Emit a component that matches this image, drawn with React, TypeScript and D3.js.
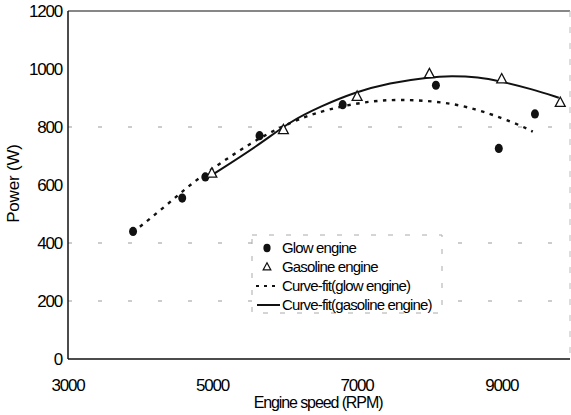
import React from "react";
import * as d3 from "d3";

const xTicks = [3000, 5000, 7000, 9000];
const yTicks = [0, 200, 400, 600, 800, 1000, 1200];
const gridValues = [200, 400, 800];

const glowRpm = [3900, 4580, 4900, 5650, 6800, 8090, 8960, 9460];
const glowPower = [440, 555, 628, 770, 877, 944, 726, 845];

const gasRpm = [4990, 5980, 7000, 8000, 9000, 9810];
const gasPower = [640, 790, 905, 983, 965, 884];

const glowFitRpm = [3900, 4369, 4729, 5130, 5531, 5900, 6264, 6568, 7066, 7578, 8228, 8643, 9003, 9279, 9430];
const glowFitPower = [437, 531, 610, 679, 745, 795, 834, 859, 886, 897, 886, 862, 831, 803, 784];

const gasFitRpm = [4950, 5642, 6057, 6500, 6983, 7440, 7993, 8300, 8685, 8961, 9418, 9790];
const gasFitPower = [628, 738, 817, 872, 921, 952, 972, 976, 972, 959, 931, 901];

const legendLabels = ["Glow engine", "Gasoline engine", "Curve-fit(glow engine)", "Curve-fit(gasoline engine)"];

const FONT = "'Liberation Sans', Arial, sans-serif";

export default function App() {
  const W = 571, H = 415;
  const left = 68, right = 570, top = 11, bottom = 359;
  const x = d3.scaleLinear().domain([3000, 9945]).range([left, right]);
  const y = d3.scaleLinear().domain([0, 1200]).range([bottom, top]);

  const line = d3.line<[number, number]>()
    .x((d) => x(d[0]))
    .y((d) => y(d[1]))
    .curve(d3.curveBasis);

  const glowFit = glowFitRpm.map((r, i) => [r, glowFitPower[i]] as [number, number]);
  const gasFit = gasFitRpm.map((r, i) => [r, gasFitPower[i]] as [number, number]);

  const tri = (cx: number, cy: number, s: number) =>
    `M${cx},${cy - s * 0.62} L${cx + s * 0.55},${cy + s * 0.42} L${cx - s * 0.55},${cy + s * 0.42} Z`;

  const lgX = 252, lgY = 235, lgW = 190, lgH = 78;
  const rowY = [248, 267, 286, 305];

  return (
    <svg width={W} height={H} style={{ position: "absolute", left: 0, top: 0, background: "#fff" }}>
      <rect x={0} y={0} width={W} height={H} fill="#fff" />
      {gridValues.map((v) => (
        <line key={v} x1={left} x2={right} y1={y(v)} y2={y(v)} stroke="#999" strokeWidth={1} strokeDasharray="4 26" />
      ))}
      {/* frame */}
      <line x1={left} x2={right} y1={top} y2={top} stroke="#111" strokeWidth={1.2} />
      <line x1={right} x2={right} y1={top} y2={bottom} stroke="#bbb" strokeWidth={1} strokeDasharray="6 10" />
      <line x1={left} x2={left} y1={top} y2={bottom} stroke="#111" strokeWidth={1.5} />
      <line x1={left} x2={right} y1={bottom} y2={bottom} stroke="#111" strokeWidth={1.5} />

      {yTicks.map((t) => (
        <text key={t} x={62} y={y(t)} dy="0.36em" textAnchor="end" fontFamily={FONT} fontSize={17} letterSpacing={-1.2} fill="#000">
          {t}
        </text>
      ))}
      {xTicks.map((t) => (
        <text key={t} x={x(t)} y={391} textAnchor="middle" fontFamily={FONT} fontSize={17} letterSpacing={-1.2} fill="#000">
          {t}
        </text>
      ))}
      <text x={318} y={408} textAnchor="middle" fontFamily={FONT} fontSize={16} letterSpacing={-1.1} fill="#000">
        Engine speed (RPM)
      </text>
      <text transform={`translate(19,${y(605)}) rotate(-90)`} textAnchor="middle" fontFamily={FONT} fontSize={17} letterSpacing={-0.2} fill="#000">
        Power (W)
      </text>

      <path d={line(glowFit) || ""} fill="none" stroke="#111" strokeWidth={2.4} strokeDasharray="3.5 5.5" />
      <path d={line(gasFit) || ""} fill="none" stroke="#111" strokeWidth={2} />

      {glowRpm.map((r, i) => (
        <ellipse key={i} cx={x(r)} cy={y(glowPower[i])} rx={4} ry={4.6} fill="#111" />
      ))}
      {gasRpm.map((r, i) => (
        <path key={i} d={tri(x(r), y(gasPower[i]), 9)} fill="#fff" stroke="#111" strokeWidth={1.3} />
      ))}

      {/* legend */}
      <rect x={lgX} y={lgY} width={lgW} height={lgH} fill="#fff" stroke="#aaa" strokeWidth={1} strokeDasharray="5 12" />
      <ellipse cx={267} cy={rowY[0]} rx={3.6} ry={4.2} fill="#111" />
      <path d={tri(267, rowY[1], 7)} fill="#fff" stroke="#111" strokeWidth={1.2} />
      <line x1={256} x2={280} y1={rowY[2]} y2={rowY[2]} stroke="#111" strokeWidth={2.2} strokeDasharray="3 5" />
      <line x1={257} x2={280} y1={rowY[3]} y2={rowY[3]} stroke="#111" strokeWidth={2} />
      {legendLabels.map((l, i) => (
        <text key={l} x={282} y={rowY[i]} dy="0.36em" fontFamily={FONT} fontSize={15} letterSpacing={-0.85} fill="#000">
          {l}
        </text>
      ))}
    </svg>
  );
}
